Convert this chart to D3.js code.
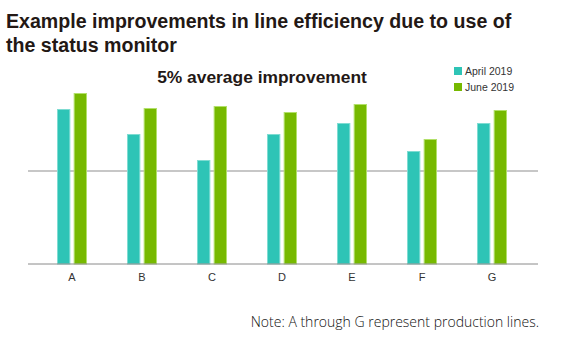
<!DOCTYPE html>
<html>
<head>
<meta charset="utf-8">
<script src="https://cdn.jsdelivr.net/npm/d3@7"></script>
<style>
  body { margin: 0; background: #fff; }
  text { font-family: "Liberation Sans", Arial, sans-serif; }
</style>
</head>
<body>
<svg id="chart"></svg>
<script>
// production lines and values (relative efficiency index)
var lines = ["A", "B", "C", "D", "E", "F", "G"];
var april2019 = [155, 130, 104, 130, 141, 113, 141];
var june2019 = [171, 156, 158, 152, 160, 125, 154];
var referenceLevel = 93;
var seriesNames = ["April 2019", "June 2019"];
var seriesColors = ["#2ec4b6", "#76b900"];
var seriesStrokes = ["#7fdcd2", "#b2e06a"];

var width = 572, height = 347;

var svg = d3.select("#chart")
  .attr("width", width)
  .attr("height", height);

var x = d3.scaleBand()
  .domain(lines)
  .range([37, 527]);

var inner = d3.scaleBand()
  .domain([0, 1])
  .range([0, 30])
  .paddingInner(0.2);

var y = d3.scaleLinear()
  .domain([0, 180])
  .range([264, 84]);

// title
svg.append("text")
  .attr("x", 6).attr("y", 28)
  .attr("font-size", 19.6).attr("font-weight", "bold").attr("fill", "#231815")
  .text("Example improvements in line efficiency due to use of");
svg.append("text")
  .attr("x", 6).attr("y", 52)
  .attr("font-size", 19.6).attr("font-weight", "bold").attr("fill", "#231815")
  .text("the status monitor");

svg.append("text")
  .attr("x", 262).attr("y", 83)
  .attr("text-anchor", "middle")
  .attr("font-size", 17.4).attr("font-weight", "bold").attr("fill", "#231815")
  .text("5% average improvement");

// reference line
svg.append("line")
  .attr("x1", 28).attr("x2", 538)
  .attr("y1", y(referenceLevel)).attr("y2", y(referenceLevel))
  .attr("stroke", "#b5b5b5").attr("stroke-width", 1.5);

var data = lines.map(function(d, i) {
  return { line: d, values: [april2019[i], june2019[i]] };
});

var group = svg.selectAll(".group")
  .data(data).enter()
  .append("g")
    .attr("class", "group")
    .attr("transform", function(d) { return "translate(" + (x(d.line) + x.bandwidth() / 2 - 15) + ",0)"; });

group.selectAll("rect")
  .data(function(d) { return d.values; }).enter()
  .append("rect")
    .attr("x", function(d, i) { return inner(i) + 0.5; })
    .attr("width", inner.bandwidth() - 1)
    .attr("y", function(d) { return y(d) + 0.5; })
    .attr("height", function(d) { return y(0) - y(d) - 0.5; })
    .attr("fill", function(d, i) { return seriesColors[i]; })
    .attr("stroke", function(d, i) { return seriesStrokes[i]; })
    .attr("stroke-width", 1);

// baseline axis
var xAxis = svg.append("g")
  .attr("transform", "translate(0," + y(0) + ")")
  .call(d3.axisBottom(x).tickSize(0).tickPadding(9));
xAxis.select(".domain").remove();
xAxis.append("line")
  .attr("x1", 28).attr("x2", 538)
  .attr("stroke", "#8a8a8a").attr("stroke-width", 1);
xAxis.selectAll(".tick text")
  .attr("font-size", 11).attr("fill", "#333")
  .style("font-family", "Liberation Sans, Arial, sans-serif");

// legend
var legend = svg.selectAll(".legend")
  .data(seriesNames).enter()
  .append("g")
    .attr("class", "legend")
    .attr("transform", function(d, i) { return "translate(454," + (67 + i * 16) + ")"; });
legend.append("rect")
  .attr("width", 8).attr("height", 8)
  .attr("fill", function(d, i) { return seriesColors[i]; });
legend.append("text")
  .attr("x", 11).attr("y", 8)
  .attr("font-size", 10.5).attr("fill", "#333")
  .text(function(d) { return d; });

// note
svg.append("text")
  .attr("x", 539).attr("y", 327)
  .attr("text-anchor", "end")
  .attr("font-size", 14).attr("fill", "#111")
  .style("font-family", "Open Sans, sans-serif").style("font-weight", 300)
  .text("Note: A through G represent production lines.");
</script>
</body>
</html>
